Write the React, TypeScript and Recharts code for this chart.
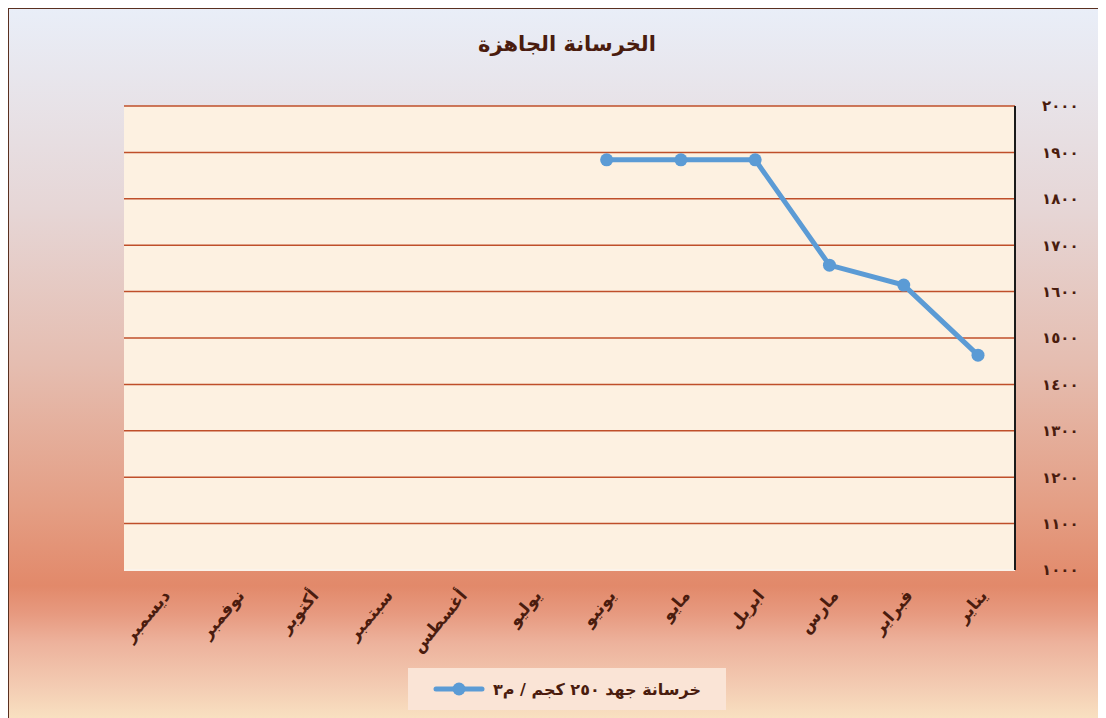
import React from 'react';
import { LineChart, Line, XAxis, YAxis, CartesianGrid } from 'recharts';

const title = 'الخرسانة الجاهزة';
const seriesName = 'خرسانة جهد ٢٥٠ كجم / م٣';
const months = ['يناير', 'فبراير', 'مارس', 'ابريل', 'مايو', 'يونيو', 'يوليو', 'أغسطس', 'سبتمبر', 'أكتوبر', 'نوفمبر', 'ديسمبر'];
const values: (number | null)[] = [1463, 1614, 1657, 1884, 1884, 1884, null, null, null, null, null, null];
const yTicks = [1000, 1100, 1200, 1300, 1400, 1500, 1600, 1700, 1800, 1900, 2000];

const data = months.map((m, i) => ({ month: m, value: values[i] }));

const arabicDigits = '٠١٢٣٤٥٦٧٨٩';
const toArabic = (n: number) => String(n).replace(/[0-9]/g, (d) => arabicDigits[Number(d)]);

const FONT = '"DejaVu Sans", "Noto Sans", sans-serif';
const TEXT = '#4a1c0e';
const LINE = '#5b9bd5';

const XTick = (props: any) => {
  const { x, y, payload } = props;
  return (
    <g transform={`translate(${x + 10},${y + 18})`}>
      <text transform="rotate(-50)" textAnchor="end" fill={TEXT} fontSize={17} fontWeight="bold" fontFamily={FONT}>
        {payload.value}
      </text>
    </g>
  );
};

export default function App() {
  return (
    <div
      style={{
        position: 'relative',
        width: 1100,
        height: 712,
        border: '1px solid #5a3020',
        background:
          'linear-gradient(to bottom, #e9eef8 0%, #e6d6d6 28%, #e5bdb0 50%, #e49e84 70%, #e2896a 81%, #e79a80 85%, #edb29c 89%, #f3cbb2 95%, #f9e2c2 100%)',
        fontFamily: FONT,
      }}
    >
      <div
        style={{
          position: 'absolute',
          left: 0,
          top: 23,
          width: 1116,
          textAlign: 'center',
          fontSize: 21,
          fontWeight: 'bold',
          color: TEXT,
          direction: 'rtl',
        }}
      >
        {title}
      </div>
      <LineChart width={1100} height={712} data={data} margin={{ top: 97, left: 115, right: 34, bottom: 121 }}>
        <CartesianGrid horizontal vertical={false} stroke="#bf4f2a" strokeWidth={1.5} fill="#fdf1e1" />
        <XAxis
          dataKey="month"
          reversed
          height={30}
          interval={0}
          padding={{ left: 37, right: 37 }}
          tickLine={false}
          axisLine={{ stroke: '#fbf3ea', strokeWidth: 2 }}
          tick={<XTick />}
        />
        <YAxis
          orientation="right"
          width={60}
          domain={[1000, 2000]}
          ticks={yTicks}
          interval={0}
          tickLine={false}
          tickSize={6}
          tickMargin={21}
          axisLine={{ stroke: '#1a1a1a', strokeWidth: 2 }}
          tickFormatter={toArabic}
          tick={{ fill: TEXT, fontSize: 15, fontWeight: 'bold', fontFamily: FONT, textAnchor: 'start', letterSpacing: 1 }}
        />
        <Line
          type="linear"
          dataKey="value"
          name={seriesName}
          stroke={LINE}
          strokeWidth={5}
          dot={{ r: 6.5, fill: LINE, stroke: LINE, strokeWidth: 0 }}
          activeDot={false}
          isAnimationActive={false}
        />
      </LineChart>
      <div
        style={{
          position: 'absolute',
          left: 399,
          top: 659,
          width: 318,
          height: 42,
          background: '#fae4d6',
          display: 'flex',
          alignItems: 'center',
          justifyContent: 'center',
          gap: 8,
        }}
      >
        <svg width={52} height={14}>
          <line x1={3} y1={7} x2={49} y2={7} stroke={LINE} strokeWidth={5} strokeLinecap="round" />
          <circle cx={26} cy={7} r={6.5} fill={LINE} />
        </svg>
        <span style={{ fontSize: 16, fontWeight: 'bold', color: TEXT, direction: 'rtl' }}>{seriesName}</span>
      </div>
    </div>
  );
}
